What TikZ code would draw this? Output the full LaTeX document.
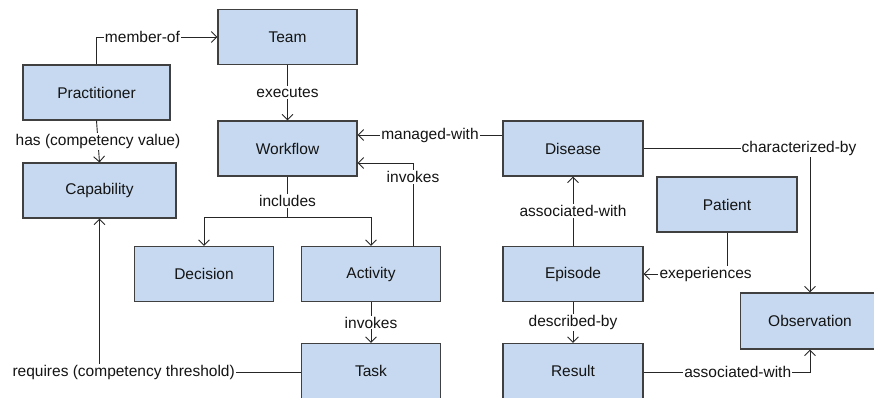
\documentclass[tikz,border=0pt]{standalone}
\usepackage{fontspec}
\setmainfont{Liberation Sans}
\usetikzlibrary{arrows.meta,calc}
\definecolor{boxfill}{RGB}{198,217,240}
\definecolor{boxline}{RGB}{64,64,64}
\definecolor{txt}{RGB}{20,20,20}
\tikzset{
  ent/.style={draw=boxline, fill=boxfill, line width=1.1pt, minimum width=139pt, minimum height=55pt, inner sep=0pt, text=txt, font=\fontsize{15.5}{18}\selectfont},
  lbl/.style={fill=white, inner sep=1.2pt, text=txt, font=\fontsize{15.5}{18}\selectfont},
  conn/.style={draw=black!85, line width=0.9pt},
  arr/.style={conn, -{Straight Barb[length=5.5pt,width=11pt,line width=0.9pt]}},
}
\begin{document}
\begin{tikzpicture}[x=1pt,y=-1pt]
\useasboundingbox (0,0) rectangle (874,397);
\clip (0,0) rectangle (874,397);
% entities
\node[ent] (team) at (287.5,37) {Team};
\node[ent, minimum width=147pt] (prac) at (96.5,92.5) {Practitioner};
\node[ent] (wf) at (287.5,148.5) {Workflow};
\node[ent, minimum width=153pt] (cap) at (99.5,190.5) {Capability};
\node[ent] (dec) at (204,274) {Decision};
\node[ent] (act) at (371,274) {Activity};
\node[ent] (task) at (371,371) {Task};
\node[ent, minimum width=140pt] (dis) at (573,148.5) {Disease};
\node[ent, minimum width=140pt] (pat) at (727,204.5) {Patient};
\node[ent, minimum width=140pt] (ep) at (573,274) {Episode};
\node[ent, minimum width=140pt] (res) at (573,371) {Result};
\node[ent, minimum width=139pt, minimum height=56pt] (obs) at (810,321) {Observation};
% connectors
\draw[arr] (prac.north) |- node[lbl, pos=0.69] {member-of} (team.west);
\draw[arr] (team) -- node[lbl] {executes} (wf);
\draw[arr] (prac.south) -- node[lbl] {has (competency value)} (cap.north);
\draw[arr] ([yshift=13.5pt]dis.west) -- node[lbl] {managed-with} ([yshift=13.5pt]wf.east);
\draw[arr] ([xshift=42pt]act.north) |- node[lbl, pos=0.416] {invokes} ([yshift=-14.5pt]wf.east);
\coordinate (inc) at (287.5,217);
\draw[conn] (wf.south) -- node[lbl, pos=0.6] {includes} (inc);
\draw[arr] (inc) -| (dec.north);
\draw[arr] (inc) -| (act.north);
\draw[arr] (act) -- node[lbl] {invokes} (task);
\draw[arr] ([yshift=-1pt]task.west) -| node[lbl, pos=0.44] {requires (competency threshold)} (cap.south);
\draw[arr] (ep) -- node[lbl] {associated-with} (dis);
\draw[arr] (pat.south) |- node[lbl, pos=0.628] {exeperiences} (ep.east);
\draw[arr] (dis.east) -| node[lbl, pos=0.467] {characterized-by} (obs.north);
\draw[arr] (ep) -- node[lbl] {described-by} (res);
\draw[arr] ([yshift=-1pt]res.east) -| node[lbl, pos=0.283] {associated-with} (obs.south);
\end{tikzpicture}
\end{document}
